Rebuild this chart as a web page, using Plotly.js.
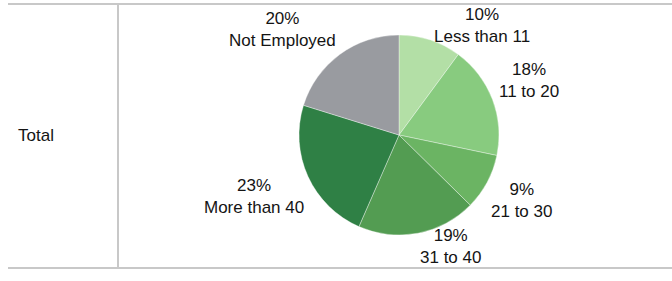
<!DOCTYPE html>
<html><head><meta charset="utf-8">
<script src="https://cdn.plot.ly/plotly-3.0.1.min.js"></script>
<style>html,body{margin:0;padding:0;background:#fff;}#chart{width:672px;height:281px;}</style>
</head><body><div id="chart"></div>
<script>
var categories = ["Less than 11", "11 to 20", "21 to 30", "31 to 40", "More than 40", "Not Employed"];
var values = [10, 18, 9, 19, 23, 20];
var colors = ["#b3dfa6", "#88cb7f", "#6bb463", "#539c52", "#2f8045", "#999ba0"];
var rowLabel = "Total";

var W = 672, H = 281;
var cx = 399, cy = 135, R = 100;
// label placement tweaks (angle shift deg, distance px) per slice
var angShift = [19, -2, 0, -14, 1.5, -11.5];
var dist = [138, 141, 139, 123, 158, 157];

var total = values.reduce(function(a,b){return a+b;},0);
var annotations = [];
var cum = 0;
var fnt = {family: 'Liberation Sans, Arial, sans-serif', size: 17, color: '#141414'};
for (var i = 0; i < values.length; i++) {
  var mid = (cum + values[i]/2) / total * 360;
  cum += values[i];
  var a = (mid + angShift[i]) * Math.PI / 180;
  var px = cx + dist[i] * Math.sin(a);
  var py = cy - dist[i] * Math.cos(a);
  annotations.push({
    xref: 'paper', yref: 'paper', x: px / W, y: 1 - py / H,
    xanchor: 'center', yanchor: 'middle', showarrow: false,
    text: Math.round(values[i]) + '%<br>' + categories[i],
    font: fnt
  });
}
annotations.push({
  xref: 'paper', yref: 'paper', x: 16 / W, y: 1 - 135 / H,
  xanchor: 'left', yanchor: 'middle', showarrow: false, text: rowLabel,
  font: fnt
});

var data = [{
  type: 'pie', labels: categories, values: values, sort: false,
  direction: 'clockwise', rotation: 0,
  marker: {colors: colors, line: {color: 'rgba(255,255,255,0.6)', width: 0.6}},
  textinfo: 'none', hoverinfo: 'label+percent', showlegend: false,
  domain: {x: [(cx - R) / W, (cx + R) / W], y: [1 - (cy + R) / H, 1 - (cy - R) / H]}
}];

var lineCol = '#c8c8c8';
var layout = {
  width: W, height: H, margin: {l: 0, r: 0, t: 0, b: 0},
  paper_bgcolor: '#fff', plot_bgcolor: '#fff', showlegend: false,
  annotations: annotations,
  shapes: [
    {type: 'line', xref: 'paper', yref: 'paper', x0: 8 / W, x1: 1, y0: 1 - 4 / H, y1: 1 - 4 / H, line: {color: lineCol, width: 2}},
    {type: 'line', xref: 'paper', yref: 'paper', x0: 8 / W, x1: 1, y0: 1 - 268 / H, y1: 1 - 268 / H, line: {color: lineCol, width: 2}},
    {type: 'line', xref: 'paper', yref: 'paper', x0: 118 / W, x1: 118 / W, y0: 1 - 4 / H, y1: 1 - 268 / H, line: {color: lineCol, width: 2}}
  ]
};
Plotly.newPlot('chart', data, layout, {displayModeBar: false, staticPlot: true});
</script></body></html>
